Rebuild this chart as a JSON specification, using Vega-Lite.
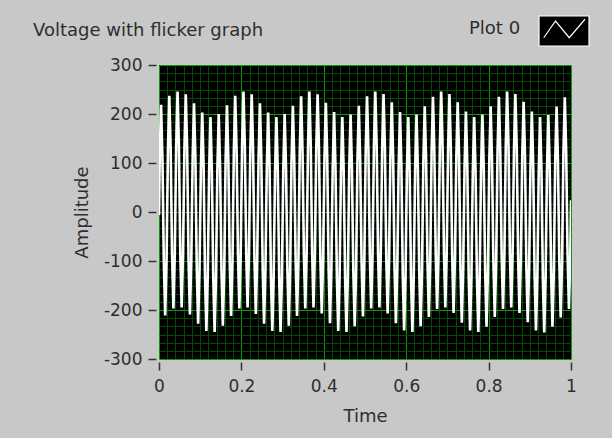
{
  "$schema": "https://vega.github.io/schema/vega-lite/v6.json",
  "width": 412,
  "height": 294,
  "autosize": {"type": "none"},
  "padding": {"left": 159, "top": 65, "right": 41, "bottom": 79},
  "background": "#c8c8c8",
  "title": {"text": "Voltage with flicker graph", "anchor": "start", "frame": "group", "dx": -126, "offset": -45, "baseline": "alphabetic", "font": "DejaVu Sans", "fontSize": 18, "fontWeight": "normal", "color": "#2e2e2e"},
  "config": {"view": {"fill": "black", "stroke": null}, "font": "DejaVu Sans"},
  "data": {"values": [
    {"t":0,"v":-6},
    {"t":0.0017,"v":109},{"t":0.005,"v":219},{"t":0.0083,"v":109},
    {"t":0.0117,"v":-101},{"t":0.015,"v":-211},{"t":0.0183,"v":-101},
    {"t":0.0217,"v":127},{"t":0.025,"v":237},{"t":0.0283,"v":127},
    {"t":0.0317,"v":-87},{"t":0.035,"v":-197},{"t":0.0383,"v":-87},
    {"t":0.0417,"v":136},{"t":0.045,"v":246},{"t":0.0483,"v":136},
    {"t":0.0517,"v":-85},{"t":0.055,"v":-195},{"t":0.0583,"v":-85},
    {"t":0.0617,"v":130},{"t":0.065,"v":240},{"t":0.0683,"v":130},
    {"t":0.0717,"v":-99},{"t":0.075,"v":-209},{"t":0.0783,"v":-99},
    {"t":0.0817,"v":112},{"t":0.085,"v":222},{"t":0.0883,"v":112},
    {"t":0.0917,"v":-118},{"t":0.095,"v":-228},{"t":0.0983,"v":-118},
    {"t":0.1017,"v":93},{"t":0.105,"v":203},{"t":0.1083,"v":93},
    {"t":0.1117,"v":-133},{"t":0.115,"v":-243},{"t":0.1183,"v":-133},
    {"t":0.1217,"v":84},{"t":0.125,"v":194},{"t":0.1283,"v":84},
    {"t":0.1317,"v":-135},{"t":0.135,"v":-245},{"t":0.1383,"v":-135},
    {"t":0.1417,"v":90},{"t":0.145,"v":200},{"t":0.1483,"v":90},
    {"t":0.1517,"v":-122},{"t":0.155,"v":-232},{"t":0.1583,"v":-122},
    {"t":0.1617,"v":108},{"t":0.165,"v":218},{"t":0.1683,"v":108},
    {"t":0.1717,"v":-102},{"t":0.175,"v":-212},{"t":0.1783,"v":-102},
    {"t":0.1817,"v":127},{"t":0.185,"v":237},{"t":0.1883,"v":127},
    {"t":0.1917,"v":-87},{"t":0.195,"v":-197},{"t":0.1983,"v":-87},
    {"t":0.2017,"v":136},{"t":0.205,"v":246},{"t":0.2083,"v":136},
    {"t":0.2117,"v":-85},{"t":0.215,"v":-195},{"t":0.2183,"v":-85},
    {"t":0.2217,"v":130},{"t":0.225,"v":240},{"t":0.2283,"v":130},
    {"t":0.2317,"v":-98},{"t":0.235,"v":-208},{"t":0.2383,"v":-98},
    {"t":0.2417,"v":112},{"t":0.245,"v":222},{"t":0.2483,"v":112},
    {"t":0.2517,"v":-118},{"t":0.255,"v":-228},{"t":0.2583,"v":-118},
    {"t":0.2617,"v":93},{"t":0.265,"v":203},{"t":0.2683,"v":93},
    {"t":0.2717,"v":-133},{"t":0.275,"v":-243},{"t":0.2783,"v":-133},
    {"t":0.2817,"v":84},{"t":0.285,"v":194},{"t":0.2883,"v":84},
    {"t":0.2917,"v":-135},{"t":0.295,"v":-245},{"t":0.2983,"v":-135},
    {"t":0.3017,"v":90},{"t":0.305,"v":200},{"t":0.3083,"v":90},
    {"t":0.3117,"v":-122},{"t":0.315,"v":-232},{"t":0.3183,"v":-122},
    {"t":0.3217,"v":107},{"t":0.325,"v":217},{"t":0.3283,"v":107},
    {"t":0.3317,"v":-102},{"t":0.335,"v":-212},{"t":0.3383,"v":-102},
    {"t":0.3417,"v":126},{"t":0.345,"v":236},{"t":0.3483,"v":126},
    {"t":0.3517,"v":-87},{"t":0.355,"v":-197},{"t":0.3583,"v":-87},
    {"t":0.3617,"v":136},{"t":0.365,"v":246},{"t":0.3683,"v":136},
    {"t":0.3717,"v":-85},{"t":0.375,"v":-195},{"t":0.3783,"v":-85},
    {"t":0.3817,"v":130},{"t":0.385,"v":240},{"t":0.3883,"v":130},
    {"t":0.3917,"v":-97},{"t":0.395,"v":-207},{"t":0.3983,"v":-97},
    {"t":0.4017,"v":113},{"t":0.405,"v":223},{"t":0.4083,"v":113},
    {"t":0.4117,"v":-117},{"t":0.415,"v":-227},{"t":0.4183,"v":-117},
    {"t":0.4217,"v":94},{"t":0.425,"v":204},{"t":0.4283,"v":94},
    {"t":0.4317,"v":-133},{"t":0.435,"v":-243},{"t":0.4383,"v":-133},
    {"t":0.4417,"v":84},{"t":0.445,"v":194},{"t":0.4483,"v":84},
    {"t":0.4517,"v":-135},{"t":0.455,"v":-245},{"t":0.4583,"v":-135},
    {"t":0.4617,"v":89},{"t":0.465,"v":199},{"t":0.4683,"v":89},
    {"t":0.4717,"v":-123},{"t":0.475,"v":-233},{"t":0.4783,"v":-123},
    {"t":0.4817,"v":107},{"t":0.485,"v":217},{"t":0.4883,"v":107},
    {"t":0.4917,"v":-103},{"t":0.495,"v":-213},{"t":0.4983,"v":-103},
    {"t":0.5017,"v":126},{"t":0.505,"v":236},{"t":0.5083,"v":126},
    {"t":0.5117,"v":-87},{"t":0.515,"v":-197},{"t":0.5183,"v":-87},
    {"t":0.5217,"v":136},{"t":0.525,"v":246},{"t":0.5283,"v":136},
    {"t":0.5317,"v":-85},{"t":0.535,"v":-195},{"t":0.5383,"v":-85},
    {"t":0.5417,"v":131},{"t":0.545,"v":241},{"t":0.5483,"v":131},
    {"t":0.5517,"v":-97},{"t":0.555,"v":-207},{"t":0.5583,"v":-97},
    {"t":0.5617,"v":114},{"t":0.565,"v":224},{"t":0.5683,"v":114},
    {"t":0.5717,"v":-117},{"t":0.575,"v":-227},{"t":0.5783,"v":-117},
    {"t":0.5817,"v":94},{"t":0.585,"v":204},{"t":0.5883,"v":94},
    {"t":0.5917,"v":-132},{"t":0.595,"v":-242},{"t":0.5983,"v":-132},
    {"t":0.6017,"v":84},{"t":0.605,"v":194},{"t":0.6083,"v":84},
    {"t":0.6117,"v":-135},{"t":0.615,"v":-245},{"t":0.6183,"v":-135},
    {"t":0.6217,"v":89},{"t":0.625,"v":199},{"t":0.6283,"v":89},
    {"t":0.6317,"v":-123},{"t":0.635,"v":-233},{"t":0.6383,"v":-123},
    {"t":0.6417,"v":106},{"t":0.645,"v":216},{"t":0.6483,"v":106},
    {"t":0.6517,"v":-104},{"t":0.655,"v":-214},{"t":0.6583,"v":-104},
    {"t":0.6617,"v":125},{"t":0.665,"v":235},{"t":0.6683,"v":125},
    {"t":0.6717,"v":-88},{"t":0.675,"v":-198},{"t":0.6783,"v":-88},
    {"t":0.6817,"v":136},{"t":0.685,"v":246},{"t":0.6883,"v":136},
    {"t":0.6917,"v":-85},{"t":0.695,"v":-195},{"t":0.6983,"v":-85},
    {"t":0.7017,"v":131},{"t":0.705,"v":241},{"t":0.7083,"v":131},
    {"t":0.7117,"v":-96},{"t":0.715,"v":-206},{"t":0.7183,"v":-96},
    {"t":0.7217,"v":114},{"t":0.725,"v":224},{"t":0.7283,"v":114},
    {"t":0.7317,"v":-116},{"t":0.735,"v":-226},{"t":0.7383,"v":-116},
    {"t":0.7417,"v":95},{"t":0.745,"v":205},{"t":0.7483,"v":95},
    {"t":0.7517,"v":-132},{"t":0.755,"v":-242},{"t":0.7583,"v":-132},
    {"t":0.7617,"v":84},{"t":0.765,"v":194},{"t":0.7683,"v":84},
    {"t":0.7717,"v":-135},{"t":0.775,"v":-245},{"t":0.7783,"v":-135},
    {"t":0.7817,"v":89},{"t":0.785,"v":199},{"t":0.7883,"v":89},
    {"t":0.7917,"v":-124},{"t":0.795,"v":-234},{"t":0.7983,"v":-124},
    {"t":0.8017,"v":106},{"t":0.805,"v":216},{"t":0.8083,"v":106},
    {"t":0.8117,"v":-104},{"t":0.815,"v":-214},{"t":0.8183,"v":-104},
    {"t":0.8217,"v":125},{"t":0.825,"v":235},{"t":0.8283,"v":125},
    {"t":0.8317,"v":-88},{"t":0.835,"v":-198},{"t":0.8383,"v":-88},
    {"t":0.8417,"v":136},{"t":0.845,"v":246},{"t":0.8483,"v":136},
    {"t":0.8517,"v":-85},{"t":0.855,"v":-195},{"t":0.8583,"v":-85},
    {"t":0.8617,"v":131},{"t":0.865,"v":241},{"t":0.8683,"v":131},
    {"t":0.8717,"v":-96},{"t":0.875,"v":-206},{"t":0.8783,"v":-96},
    {"t":0.8817,"v":115},{"t":0.885,"v":225},{"t":0.8883,"v":115},
    {"t":0.8917,"v":-115},{"t":0.895,"v":-225},{"t":0.8983,"v":-115},
    {"t":0.9017,"v":95},{"t":0.905,"v":205},{"t":0.9083,"v":95},
    {"t":0.9117,"v":-132},{"t":0.915,"v":-242},{"t":0.9183,"v":-132},
    {"t":0.9217,"v":84},{"t":0.925,"v":194},{"t":0.9283,"v":84},
    {"t":0.9317,"v":-136},{"t":0.935,"v":-246},{"t":0.9383,"v":-136},
    {"t":0.9417,"v":88},{"t":0.945,"v":198},{"t":0.9483,"v":88},
    {"t":0.9517,"v":-124},{"t":0.955,"v":-234},{"t":0.9583,"v":-124},
    {"t":0.9617,"v":105},{"t":0.965,"v":215},{"t":0.9683,"v":105},
    {"t":0.9717,"v":-105},{"t":0.975,"v":-215},{"t":0.9783,"v":-105},
    {"t":0.9817,"v":124},{"t":0.985,"v":234},{"t":0.9883,"v":124},
    {"t":0.9917,"v":-88},{"t":0.995,"v":-198},{"t":0.9983,"v":-88},
    {"t":1,"v":24}
  ]},
  "mark": {"type": "line", "strokeWidth": 2.6, "clip": true, "interpolate": "linear"},
  "encoding": {
    "x": {
      "field": "t", "type": "quantitative",
      "scale": {"domain": [0, 1], "nice": false, "zero": false},
      "axis": {
        "values": [0,0.02,0.04,0.06,0.08,0.1,0.12,0.14,0.16,0.18,0.2,0.22,0.24,0.26,0.28,0.3,0.32,0.34,0.36,0.38,0.4,0.42,0.44,0.46,0.48,0.5,0.52,0.54,0.56,0.58,0.6,0.62,0.64,0.66,0.68,0.7,0.72,0.74,0.76,0.78,0.8,0.82,0.84,0.86,0.88,0.9,0.92,0.94,0.96,0.98,1],
        "grid": true,
        "gridColor": {"condition": {"test": "abs(datum.value*5-round(datum.value*5))<0.001", "value": "#0b9a0b"}, "value": "#044a04"},
        "gridWidth": 1,
        "domain": false,
        "offset": 3,
        "tickSize": 8,
        "tickWidth": 1.5,
        "tickColor": "#333333",
        "tickOpacity": {"condition": {"test": "abs(datum.value*5-round(datum.value*5))<0.001", "value": 1}, "value": 0},
        "labelExpr": "abs(datum.value*5-round(datum.value*5))<0.001 ? ''+datum.value : ''",
        "labelOverlap": false,
        "labelFlush": false,
        "labelFont": "DejaVu Sans",
        "labelFontSize": 17,
        "labelColor": "#2e2e2e",
        "labelPadding": 8,
        "title": "Time",
        "titleFont": "DejaVu Sans",
        "titleFontSize": 18,
        "titleFontWeight": "normal",
        "titleColor": "#2e2e2e",
        "titlePadding": 13
      }
    },
    "y": {
      "field": "v", "type": "quantitative",
      "scale": {"domain": [-300, 300], "nice": false, "zero": false},
      "axis": {
        "values": [-300,-283.333,-266.667,-250,-233.333,-216.667,-200,-183.333,-166.667,-150,-133.333,-116.667,-100,-83.333,-66.667,-50,-33.333,-16.667,0,16.667,33.333,50,66.667,83.333,100,116.667,133.333,150,166.667,183.333,200,216.667,233.333,250,266.667,283.333,300],
        "grid": true,
        "gridColor": {"condition": {"test": "abs(datum.value % 100) < 0.01", "value": "#0b9a0b"}, "value": "#044a04"},
        "gridWidth": 1,
        "domain": false,
        "offset": 3,
        "tickSize": 8,
        "tickWidth": 1.5,
        "tickColor": "#333333",
        "tickOpacity": {"condition": {"test": "abs(datum.value % 100) < 0.01", "value": 1}, "value": 0},
        "labelExpr": "abs(datum.value % 100) < 0.01 ? ''+datum.value : ''",
        "labelOverlap": false,
        "labelFlush": false,
        "labelFont": "DejaVu Sans",
        "labelFontSize": 17,
        "labelColor": "#2e2e2e",
        "labelPadding": 6,
        "title": "Amplitude",
        "titleFont": "DejaVu Sans",
        "titleFontSize": 18,
        "titleFontWeight": "normal",
        "titleColor": "#2e2e2e",
        "titlePadding": 12
      }
    },
    "color": {
      "datum": "Plot 0",
      "scale": {"range": ["white"]},
      "legend": {
        "orient": "none",
        "legendX": 310,
        "legendY": -56,
        "title": "Plot 0",
        "titleOrient": "left",
        "titleFont": "DejaVu Sans",
        "titleFontSize": 18,
        "titleFontWeight": "normal",
        "titleColor": "#2e2e2e",
        "titlePadding": 17,
        "titleBaseline": "middle",
        "titleAnchor": "middle",
        "labelExpr": "''",
        "labelOffset": 0,
        "padding": 0,
        "symbolType": "M-1,-0.76L1,-0.76L1,0.44L-1,0.44Z M-0.81,0.11L-0.34,-0.56L0.21,0.11L0.84,-0.63L0.21,0.11L-0.34,-0.56Z",
        "symbolSize": 2500,
        "symbolFillColor": "black",
        "symbolStrokeColor": "white",
        "symbolStrokeWidth": 1.2
      }
    }
  }
}
